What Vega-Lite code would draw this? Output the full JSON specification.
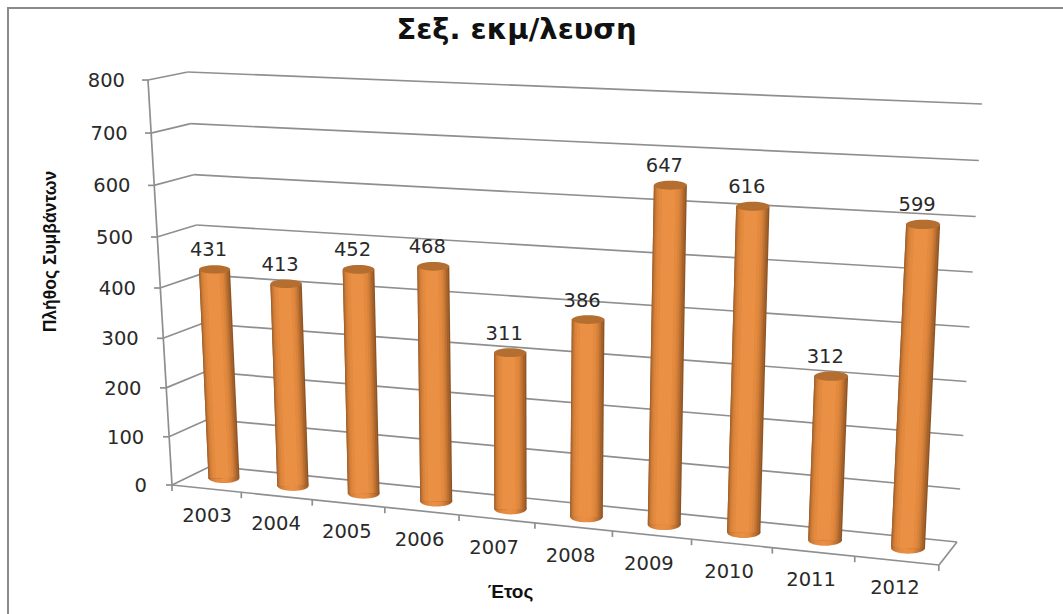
{
"$schema":"https://vega.github.io/schema/vega-lite/v6.json",
"width":1063,"height":614,"padding":0,"autosize":{"type":"none"},"background":"white",
"title":{"text":"Σεξ. εκμ/λευση","anchor":"middle","dx":-15,"dy":49,"font":"DejaVu Sans","fontSize":29,"fontWeight":"bold","color":"#111111"},
"config":{"view":{"stroke":null}},
"datasets":{
"years":[{"year":2003,"value":431},{"year":2004,"value":413},{"year":2005,"value":452},{"year":2006,"value":468},{"year":2007,"value":311},{"year":2008,"value":386},{"year":2009,"value":647},{"year":2010,"value":616},{"year":2011,"value":312},{"year":2012,"value":599}],
"levels":[{"level":0},{"level":100},{"level":200},{"level":300},{"level":400},{"level":500},{"level":600},{"level":700},{"level":800}]
},
"encoding":{
"x":{"field":"x0","type":"quantitative","scale":{"domain":[0,1063],"nice":false,"zero":false},"axis":{"domain":false,"ticks":false,"labels":false,"grid":false,"title":"Έτος","titleX":510,"titleY":-23,"titleFont":"Liberation Sans","titleFontSize":19,"titleFontWeight":"bold","titleColor":"#111111","titleAlign":"center","titleBaseline":"middle"}},
"y":{"field":"y0","type":"quantitative","scale":{"domain":[614,0],"nice":false,"zero":false},"axis":{"domain":false,"ticks":false,"labels":false,"grid":false,"title":"Πλήθος Συμβάντων","titleX":50,"titleY":251,"titleAngle":-90,"titleFont":"Liberation Sans","titleFontSize":17.5,"titleFontWeight":"bold","titleColor":"#111111","titleAlign":"center","titleBaseline":"middle"}}
},
"layer":[
{"data":{"name":"levels"},
"transform":[
{"calculate":"172-0.03*datum.level","as":"flx"},
{"calculate":"485-0.4787*datum.level-0.0000344*datum.level*datum.level","as":"fly"},
{"calculate":"211-0.029*datum.level","as":"blx"},
{"calculate":"466-0.4645*datum.level-0.000035*datum.level*datum.level","as":"bly"},
{"calculate":"957+0.03125*datum.level","as":"brx"},
{"calculate":"542-0.5275*datum.level-0.000025*datum.level*datum.level","as":"bry"}
],
"layer":[
{"transform":[{"filter":"datum.level==0"},{"calculate":"8","as":"x0"},{"calculate":"8","as":"y0"},{"calculate":"1075","as":"xb"},{"calculate":"625","as":"yb"}],
"mark":{"type":"rect","fill":null,"stroke":"#8A8A8A","strokeWidth":2},
"encoding":{"x2":{"field":"xb"},"y2":{"field":"yb"}}},
{"encoding":{"x2":{"field":"xb"},"y2":{"field":"yb"}},
"layer":[
{"transform":[{"calculate":"datum.blx","as":"x0"},{"calculate":"datum.bly","as":"y0"},{"calculate":"datum.brx","as":"xb"},{"calculate":"datum.bry","as":"yb"}],"mark":{"type":"rule","stroke":"#8F8F8F","strokeWidth":1.7}},
{"transform":[{"calculate":"datum.flx","as":"x0"},{"calculate":"datum.fly","as":"y0"},{"calculate":"datum.blx","as":"xb"},{"calculate":"datum.bly","as":"yb"}],"mark":{"type":"rule","stroke":"#8F8F8F","strokeWidth":1.7}},
{"transform":[{"calculate":"datum.flx-6","as":"x0"},{"calculate":"datum.fly","as":"y0"},{"calculate":"datum.flx","as":"xb"},{"calculate":"datum.fly","as":"yb"}],"mark":{"type":"rule","stroke":"#8F8F8F","strokeWidth":1.7}},
{"transform":[{"filter":"datum.level==0"},{"calculate":"172","as":"x0"},{"calculate":"485","as":"y0"},{"calculate":"148","as":"xb"},{"calculate":"80","as":"yb"}],"mark":{"type":"rule","stroke":"#8F8F8F","strokeWidth":1.7}},
{"transform":[{"filter":"datum.level==0"},{"calculate":"172","as":"x0"},{"calculate":"485","as":"y0"},{"calculate":"939","as":"xb"},{"calculate":"565","as":"yb"}],"mark":{"type":"rule","stroke":"#8F8F8F","strokeWidth":1.7}},
{"transform":[{"filter":"datum.level==0"},{"calculate":"939","as":"x0"},{"calculate":"565","as":"y0"},{"calculate":"957","as":"xb"},{"calculate":"542","as":"yb"}],"mark":{"type":"rule","stroke":"#8F8F8F","strokeWidth":1.7}},
{"transform":[{"filter":"datum.level==0"},{"calculate":"172","as":"x0"},{"calculate":"485","as":"y0"},{"calculate":"172","as":"xb"},{"calculate":"491","as":"yb"}],"mark":{"type":"rule","stroke":"#8F8F8F","strokeWidth":1.7}}
]},
{"transform":[{"calculate":"125+(800-datum.level)*0.0275","as":"x0"},{"calculate":"datum.fly+1","as":"y0"}],
"mark":{"type":"text","align":"right","baseline":"middle","font":"DejaVu Sans","fontSize":19.5,"fill":"#2A2A2A"},
"encoding":{"text":{"field":"level","type":"nominal"}}}
]},
{"data":{"name":"years"},
"transform":[
{"calculate":"datum.year-2003","as":"i"},
{"calculate":"224+69*datum.i+0.875*datum.i*(datum.i-1)","as":"bx"},
{"calculate":"478+7.78*datum.i","as":"by"},
{"calculate":"datum.bx+datum.value*(-0.022+0.00525*datum.i)","as":"tx"},
{"calculate":"datum.by-datum.value*(0.471+0.0057*datum.i+0.00003*datum.value)","as":"ty"},
{"calculate":"172+69.3*(datum.i+1)+0.82*(datum.i+1)*datum.i","as":"ax"},
{"calculate":"485+(datum.ax-172)*80/767","as":"ay"},
{"calculate":"31+0.33*datum.i","as":"w"},
{"calculate":"datum.w*datum.w","as":"sz"}
],
"layer":[
{"transform":[{"calculate":"datum.ax","as":"x0"},{"calculate":"datum.ay","as":"y0"},{"calculate":"datum.ax","as":"xb"},{"calculate":"datum.ay+6","as":"yb"}],
"mark":{"type":"rule","stroke":"#8F8F8F","strokeWidth":1.7},"encoding":{"x2":{"field":"xb"},"y2":{"field":"yb"}}},
{"transform":[{"calculate":"datum.bx","as":"x0"},{"calculate":"datum.by","as":"y0"}],
"mark":{"type":"point","filled":true,"opacity":1,"shape":"M-1,0A1,0.33,0,1,0,1,0A1,0.33,0,1,0,-1,0Z","stroke":null,
"fill":{"gradient":"linear","x1":0,"x2":1,"y1":0,"y2":0,"stops":[{"offset":0,"color":"#A5622B"},{"offset":0.1,"color":"#CC7B37"},{"offset":0.25,"color":"#E38A3F"},{"offset":0.45,"color":"#EA9044"},{"offset":0.65,"color":"#E38A3F"},{"offset":0.85,"color":"#BA6F31"},{"offset":1,"color":"#8E5424"}]}},
"encoding":{"size":{"field":"sz","type":"quantitative","scale":null,"legend":null}}},
{"transform":[{"calculate":"datum.bx","as":"x0"},{"calculate":"datum.by","as":"y0"},{"calculate":"datum.tx","as":"xb"},{"calculate":"datum.ty","as":"yb"}],
"encoding":{"x2":{"field":"xb"},"y2":{"field":"yb"}},
"layer":[
{"mark":{"type":"rule","stroke":"#8E5424"},"transform":[{"calculate":"datum.w","as":"sw"}],"encoding":{"size":{"field":"sw","type":"quantitative","scale":null,"legend":null}}},
{"mark":{"type":"rule","stroke":"#A5622B","xOffset":-0.66,"x2Offset":-0.66},"transform":[{"calculate":"datum.w*0.96","as":"sw"}],"encoding":{"size":{"field":"sw","type":"quantitative","scale":null,"legend":null}}},
{"mark":{"type":"rule","stroke":"#BA6F31","xOffset":-1.15,"x2Offset":-1.15},"transform":[{"calculate":"datum.w*0.87","as":"sw"}],"encoding":{"size":{"field":"sw","type":"quantitative","scale":null,"legend":null}}},
{"mark":{"type":"rule","stroke":"#CC7B37","xOffset":-1.5,"x2Offset":-1.5},"transform":[{"calculate":"datum.w*0.79","as":"sw"}],"encoding":{"size":{"field":"sw","type":"quantitative","scale":null,"legend":null}}},
{"mark":{"type":"rule","stroke":"#DA843B","xOffset":-1.65,"x2Offset":-1.65},"transform":[{"calculate":"datum.w*0.70","as":"sw"}],"encoding":{"size":{"field":"sw","type":"quantitative","scale":null,"legend":null}}},
{"mark":{"type":"rule","stroke":"#E38A3F","xOffset":-1.65,"x2Offset":-1.65},"transform":[{"calculate":"datum.w*0.58","as":"sw"}],"encoding":{"size":{"field":"sw","type":"quantitative","scale":null,"legend":null}}},
{"mark":{"type":"rule","stroke":"#EA9044","xOffset":-1.65,"x2Offset":-1.65},"transform":[{"calculate":"datum.w*0.40","as":"sw"}],"encoding":{"size":{"field":"sw","type":"quantitative","scale":null,"legend":null}}}
]},
{"transform":[{"calculate":"datum.tx","as":"x0"},{"calculate":"datum.ty","as":"y0"}],
"mark":{"type":"point","filled":true,"opacity":1,"shape":"M-1,0A1,0.27,0,1,0,1,0A1,0.27,0,1,0,-1,0Z","stroke":null,"fill":"#B36E30"},
"encoding":{"size":{"field":"sz","type":"quantitative","scale":null,"legend":null}}},
{"transform":[{"calculate":"datum.tx-6","as":"x0"},{"calculate":"datum.ty-19","as":"y0"}],
"mark":{"type":"text","align":"center","baseline":"middle","font":"DejaVu Sans","fontSize":19.5,"fill":"#2A2A2A"},
"encoding":{"text":{"field":"value","type":"nominal"}}},
{"transform":[{"calculate":"207+69*datum.i+0.93*datum.i*(datum.i-1)","as":"x0"},{"calculate":"516+8*datum.i","as":"y0"}],
"mark":{"type":"text","align":"center","baseline":"middle","font":"DejaVu Sans","fontSize":19.5,"fill":"#2A2A2A"},
"encoding":{"text":{"field":"year","type":"nominal"}}}
]}
]
}
